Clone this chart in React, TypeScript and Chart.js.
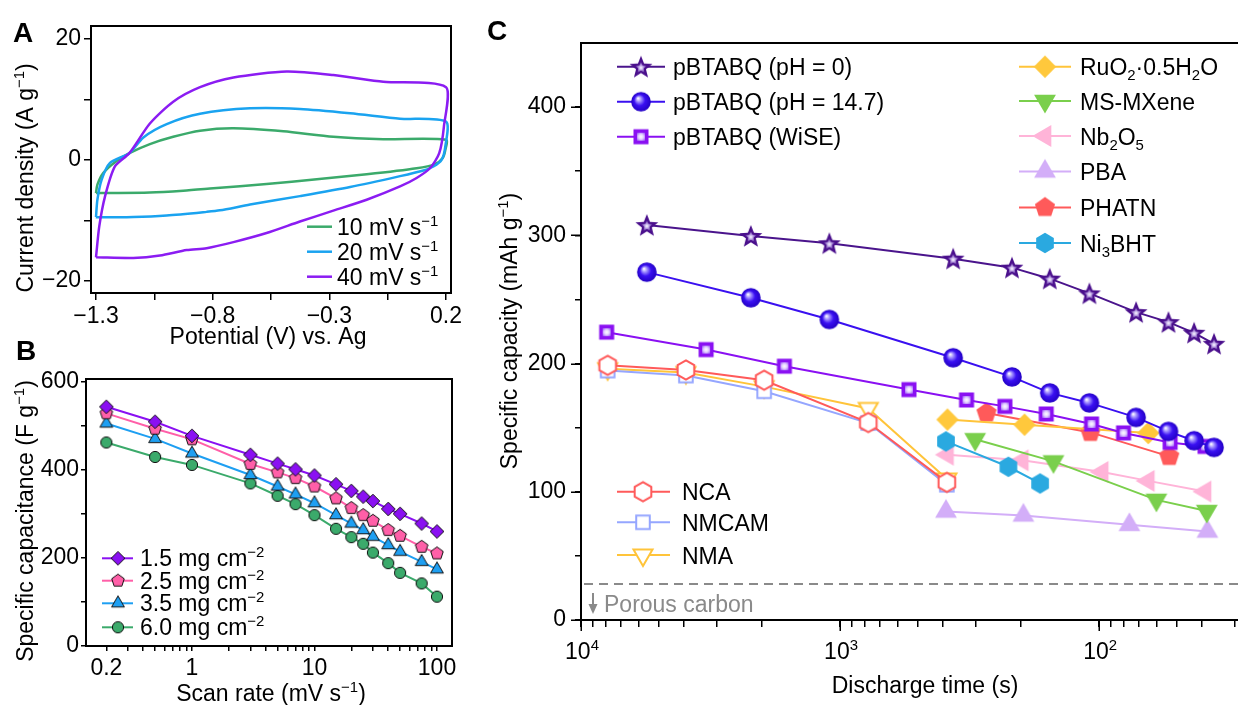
import React, { useEffect, useRef } from 'react';
import { Chart, registerables } from 'chart.js';
Chart.register(...registerables);

const FONT = "Arial, 'Liberation Sans', Helvetica, sans-serif";

// ---------- Panel A: cyclic voltammograms ----------
const cv10V = [-1.3, -1.294, -1.269, -1.219, -1.157, -1.069, -0.969, -0.854, -0.711, -0.497, -0.283, -0.069, 0.2, 0.197, 0.186, 0.153, 0.074, -0.14, -0.354, -0.569, -0.797, -0.926, -1.069, -1.297, -1.3];
const cv10I = [-5.5, -4.1, -2.2, -0.4, 1.1, 2.6, 3.8, 4.8, 5.2, 4.7, 3.8, 3.4, 3.3, 1.6, 0.3, -0.7, -1.4, -2.4, -3.2, -4.0, -4.7, -5.1, -5.4, -5.5, -5.5];
const cv20V = [-1.3, -1.294, -1.276, -1.24, -1.157, -1.097, -0.997, -0.854, -0.64, -0.426, -0.211, 0.003, 0.2, 0.197, 0.181, 0.146, 0.103, 0.003, -0.211, -0.426, -0.64, -0.769, -0.826, -0.997, -1.14, -1.297, -1.3];
const cv20I = [-9.45, -6.6, -3.3, -0.5, 1.1, 3.7, 5.9, 7.6, 8.5, 8.4, 7.7, 6.8, 6.3, 2.2, 0, -1.1, -1.76, -2.7, -4.5, -6.0, -7.4, -8.35, -8.6, -9.2, -9.45, -9.5, -9.45];
const cv40V = [-1.3, -1.286, -1.261, -1.219, -1.157, -1.069, -0.969, -0.854, -0.711, -0.483, -0.283, -0.069, 0.2, 0.191, 0.171, 0.131, 0.074, 0.003, -0.14, -0.283, -0.426, -0.569, -0.711, -0.826, -0.911, -1.026, -1.14, -1.297, -1.3];
const cv40I = [-16.1, -11.0, -6.0, -1.1, 1.1, 6.0, 9.6, 12.0, 13.6, 14.6, 14.0, 12.9, 12.0, 5.5, 1.1, -1.4, -3.0, -4.4, -6.6, -8.4, -10.2, -12.1, -13.6, -14.6, -14.9, -15.8, -16.2, -16.1, -16.1];
const scanLabels = ['10', '20', '40'];
const aTicksX = [-1.3, -1.05, -0.8, -0.55, -0.3, -0.05, 0.2];
const aLabelsX = [-1.3, -0.8, -0.3, 0.2];
const aTicksY = [-20, -10, 0, 10, 20];
const aLabelsY = [-20, 0, 20];

// ---------- Panel B: specific capacitance vs scan rate ----------
const scanRates = [0.2, 0.5, 1, 3, 5, 7, 10, 15, 20, 25, 30, 40, 50, 75, 100];
const cap15 = [543, 509, 477, 434, 414, 401, 387, 367, 352, 339, 329, 311, 300, 278, 260];
const cap25 = [528, 493, 469, 413, 394, 381, 362, 335, 313, 297, 284, 263, 250, 225, 210];
const cap35 = [505, 470, 437, 388, 362, 344, 324, 297, 278, 263, 248, 229, 214, 191, 174];
const cap60 = [462, 429, 411, 369, 341, 322, 297, 266, 247, 232, 212, 188, 166, 142, 112];
const loadings = ['1.5', '2.5', '3.5', '6.0'];
const bTicksX = [0.2, 0.3, 0.4, 0.5, 0.6, 0.7, 0.8, 0.9, 1, 2, 3, 4, 5, 6, 7, 8, 9, 10, 20, 30, 40, 50, 60, 70, 80, 90, 100];
const bLabelsX = [0.2, 1, 10, 100];
const bTicksY = [0, 100, 200, 300, 400, 500, 600];
const bLabelsY = [0, 200, 400, 600];

// ---------- Panel C: specific capacity vs discharge time ----------
const tPB = [5570, 2210, 1100, 366, 217, 155, 109, 72, 54, 43, 36];
const capPH0 = [308, 299.5, 293.8, 281.8, 274.8, 266.2, 254.7, 240.1, 232.3, 224.0, 215.4];
const capPH147 = [271.3, 251.3, 234.4, 204.5, 189.6, 177.1, 169.3, 158.0, 147.1, 139.8, 134.6];
const tWiSE = [7960, 3290, 1640, 542, 325, 231, 160, 107, 80.5, 53.2, 39];
const capWiSE = [224.5, 210.9, 197.9, 179.7, 171.6, 166.6, 160.7, 152.9, 145.9, 138.5, 135.4];
const tLi = [7890, 3935, 1963, 778, 387];
const capNCA = [198.6, 195, 187, 154, 107.3];
const capNMCAM = [194.5, 190.6, 178.4, 153.6, 105.5];
const capNMA = [196, 193, 182, 165, 110];
const tRuO2 = [385, 194, 64.6];
const capRuO2 = [156.3, 152.3, 145.8];
const tMX = [301, 150, 60.1, 38.4];
const capMX = [141, 123.7, 93.7, 85];
const tNb = [385, 198, 97.3, 64.6, 39];
const capNb = [128.9, 124.5, 115.5, 108.5, 100.2];
const tPBA = [390, 196, 76.4, 38.2];
const capPBA = [84.6, 81.5, 74.2, 69];
const tPHATN = [272, 108, 53.6];
const capPHATN = [161.5, 146.3, 127.6];
const tNi = [390, 224, 169];
const capNi = [139.3, 119.5, 106.5];
const porousCarbon = 28;
const cTicksX = [30, 40, 50, 60, 70, 80, 90, 100, 200, 300, 400, 500, 600, 700, 800, 900, 1000, 2000, 3000, 4000, 5000, 6000, 7000, 8000, 9000, 10000];
const cLabelsX = [[10000, '4'], [1000, '3'], [100, '2']];
const cTicksY = [0, 50, 100, 150, 200, 250, 300, 350, 400];
const cLabelsY = [0, 100, 200, 300, 400];

// ---------- helpers ----------
type Seg = [string, string];
const pts = (xs: number[], ys: number[]) => xs.map((x, i) => ({ x, y: ys[i] }));
const fmt = (v: number) => (v < 0 ? '\u2212' + String(Math.abs(v)) : String(v));
const has = (arr: number[], v: number) => arr.some((a) => Math.abs(a - v) < 1e-9);

function richWidth(ctx: CanvasRenderingContext2D, segs: Seg[], size: number) {
  let w = 0;
  for (const [t, k] of segs) {
    ctx.font = `${k ? size * 0.65 : size}px ${FONT}`;
    w += ctx.measureText(t).width;
  }
  return w;
}
function drawRich(ctx: CanvasRenderingContext2D, segs: Seg[], x: number, y: number, size: number, align = 'left', color = '#000') {
  ctx.save();
  ctx.fillStyle = color;
  ctx.textAlign = 'left';
  ctx.textBaseline = 'alphabetic';
  const w = richWidth(ctx, segs, size);
  let cx = align === 'left' ? x : align === 'center' ? x - w / 2 : x - w;
  for (const [t, k] of segs) {
    const s = k ? size * 0.65 : size;
    ctx.font = `${s}px ${FONT}`;
    const dy = k === 'sup' ? -size * 0.4 : k === 'sub' ? size * 0.22 : 0;
    ctx.fillText(t, cx, y + dy);
    cx += ctx.measureText(t).width;
  }
  ctx.restore();
}
function drawRot(ctx: CanvasRenderingContext2D, segs: Seg[], xBase: number, yCenter: number, size: number) {
  ctx.save();
  ctx.translate(xBase, yCenter);
  ctx.rotate(-Math.PI / 2);
  drawRich(ctx, segs, 0, 0, size, 'center');
  ctx.restore();
}
function panelLabel(ctx: CanvasRenderingContext2D, t: string, x: number, y: number) {
  ctx.save();
  ctx.font = `bold 28px ${FONT}`;
  ctx.fillStyle = '#000';
  ctx.textBaseline = 'alphabetic';
  ctx.fillText(t, x, y);
  ctx.restore();
}

function mkCanvas(size: number, draw: (ctx: CanvasRenderingContext2D, c: number) => void) {
  const cv = document.createElement('canvas');
  cv.width = size;
  cv.height = size;
  const ctx = cv.getContext('2d') as CanvasRenderingContext2D;
  draw(ctx, size / 2);
  return cv;
}
function polyPath(ctx: CanvasRenderingContext2D, cx: number, cy: number, n: number, R: number, rot: number) {
  ctx.beginPath();
  for (let i = 0; i < n; i++) {
    const a = rot + (i * 2 * Math.PI) / n;
    const x = cx + R * Math.sin(a);
    const y = cy - R * Math.cos(a);
    if (i) ctx.lineTo(x, y);
    else ctx.moveTo(x, y);
  }
  ctx.closePath();
}
function starPath(ctx: CanvasRenderingContext2D, cx: number, cy: number, R: number, r: number) {
  ctx.beginPath();
  for (let i = 0; i < 10; i++) {
    const a = (i * Math.PI) / 5;
    const rr = i % 2 ? r : R;
    const x = cx + rr * Math.sin(a);
    const y = cy - rr * Math.cos(a);
    if (i) ctx.lineTo(x, y);
    else ctx.moveTo(x, y);
  }
  ctx.closePath();
}
function polyMarker(size: number, n: number, R: number, rot: number, fill: string, stroke?: string, lw = 1) {
  return mkCanvas(size, (ctx, c) => {
    polyPath(ctx, c, c, n, R, rot);
    ctx.fillStyle = fill;
    ctx.fill();
    if (stroke) {
      ctx.strokeStyle = stroke;
      ctx.lineWidth = lw;
      ctx.lineJoin = 'miter';
      ctx.stroke();
    }
  });
}

function makeMarkers() {
  const m: Record<string, HTMLCanvasElement> = {};
  // Panel B
  m.bDiamond = polyMarker(18, 4, 6.8, 0, '#8A10F2', '#111', 1);
  m.bPent = polyMarker(18, 5, 6.6, 0, '#FF5FA8', '#111', 1);
  m.bTri = polyMarker(18, 3, 7.4, 0, '#1E9FF2', '#111', 1);
  m.bCircle = mkCanvas(16, (ctx, c) => {
    ctx.beginPath();
    ctx.arc(c, c, 5.6, 0, Math.PI * 2);
    ctx.fillStyle = '#3BAA6B';
    ctx.fill();
    ctx.strokeStyle = '#111';
    ctx.lineWidth = 1;
    ctx.stroke();
  });
  // Panel C
  m.star = mkCanvas(28, (ctx, c) => {
    const cy = c + 1;
    starPath(ctx, c, cy, 12, 5.2);
    ctx.fillStyle = '#4A0F8C';
    ctx.fill();
    starPath(ctx, c, cy, 6.2, 2.7);
    const g = ctx.createRadialGradient(c, cy, 0, c, cy, 5.5);
    g.addColorStop(0, '#ffffff');
    g.addColorStop(0.35, '#c8b4ec');
    g.addColorStop(1, '#5a249e');
    ctx.fillStyle = g;
    ctx.fill();
  });
  m.ball = mkCanvas(24, (ctx, c) => {
    ctx.beginPath();
    ctx.arc(c, c, 9.8, 0, Math.PI * 2);
    const g = ctx.createRadialGradient(c - 3, c - 3.5, 0.3, c, c, 9.8);
    g.addColorStop(0, '#ffffff');
    g.addColorStop(0.22, '#a898ff');
    g.addColorStop(0.55, '#3a10f2');
    g.addColorStop(1, '#2200c4');
    ctx.fillStyle = g;
    ctx.fill();
  });
  m.wise = mkCanvas(20, (ctx, c) => {
    ctx.fillStyle = '#8A10F2';
    ctx.fillRect(c - 7.5, c - 7.5, 15, 15);
    const g = ctx.createRadialGradient(c, c, 0, c, c, 5);
    g.addColorStop(0, '#ffffff');
    g.addColorStop(0.5, '#e2d0ff');
    g.addColorStop(1, '#a060f6');
    ctx.fillStyle = g;
    ctx.fillRect(c - 4, c - 4, 8, 8);
  });
  m.nca = polyMarker(26, 6, 9.6, 0, '#ffffff', '#FF5A5A', 2);
  m.nmcam = polyMarker(22, 4, 9.6, Math.PI / 4, '#ffffff', '#95A6FF', 2);
  m.nma = polyMarker(28, 3, 11, Math.PI, '#ffffff', '#FFC43A', 2);
  m.ruo2 = polyMarker(26, 4, 11.2, 0, '#FFC83C');
  m.mx = polyMarker(30, 3, 12.6, Math.PI, '#7ACF4C');
  m.nb = polyMarker(30, 3, 12.6, -Math.PI / 2, '#FFB4D8');
  m.pba = polyMarker(30, 3, 12.6, 0, '#D3AEF8');
  m.phatn = polyMarker(26, 5, 10.6, 0, '#FF5A5A');
  m.ni = polyMarker(26, 6, 10.2, 0, '#2AA9E0');
  return m;
}

const gridCfg = (len: number) => ({ display: true, drawOnChartArea: false, drawTicks: true, tickLength: len, color: '#000', lineWidth: 1.5 });
const borderCfg = { display: true, color: '#000', width: 2 };
const ticksCfg = (pad: number, cb: (v: any) => string) => ({
  color: '#000',
  font: { family: FONT, size: 23 },
  padding: pad,
  autoSkip: false,
  maxRotation: 0,
  minRotation: 0,
  callback: (v: any) => cb(Number(v)),
});
const baseOptions = (padding: any) => ({
  responsive: false,
  animation: false,
  devicePixelRatio: 1,
  events: [],
  layout: { padding, autoPadding: false },
  plugins: { legend: { display: false }, tooltip: { enabled: false } },
});

// nudge layout padding so the plot area lands exactly where the reference has it
function fitArea(chart: any, target: { left: number; top: number; right: number; bottom: number }) {
  for (let k = 0; k < 4; k++) {
    const a = chart.chartArea;
    const p = chart.config.options.layout.padding;
    const dl = a.left - target.left;
    const dt = a.top - target.top;
    const dr = target.right - a.right;
    const db = target.bottom - a.bottom;
    if (Math.abs(dl) < 0.3 && Math.abs(dt) < 0.3 && Math.abs(dr) < 0.3 && Math.abs(db) < 0.3) break;
    chart.config.options.layout.padding = {
      left: p.left - dl,
      top: p.top - dt,
      right: p.right - dr,
      bottom: p.bottom - db,
    };
    chart.update();
  }
  return chart;
}

// ---------- Panel A ----------
const colA = ['#3BAA6B', '#1AA3F0', '#8B1CF2'];
function makeA(canvas: HTMLCanvasElement) {
  const series = [pts(cv10V, cv10I), pts(cv20V, cv20I), pts(cv40V, cv40I)];
  const datasets = series
    .map((d, i) => ({ data: d, showLine: true, borderColor: colA[i], borderWidth: 2.5, pointRadius: 0, tension: 0.25, fill: false }))
    .reverse();
  const plugin = {
    id: 'panelA',
    afterDraw(chart: any) {
      const { ctx, chartArea: a } = chart;
      ctx.save();
      ctx.strokeStyle = '#000';
      ctx.lineWidth = 2;
      ctx.strokeRect(a.left, a.top, a.right - a.left, a.bottom - a.top);
      ctx.restore();
      drawRich(ctx, [['Potential (V) vs. Ag', '']], 268, 344, 23, 'center');
      drawRot(ctx, [['Current density (A g', ''], ['\u22121', 'sup'], [')', '']], 33, 178, 23);
      const rows = [226.7, 251.7, 276.7];
      scanLabels.forEach((s, i) => {
        ctx.save();
        ctx.strokeStyle = colA[i];
        ctx.lineWidth = 2.5;
        ctx.beginPath();
        ctx.moveTo(307, rows[i]);
        ctx.lineTo(332, rows[i]);
        ctx.stroke();
        ctx.restore();
        drawRich(ctx, [[`${s} mV s`, ''], ['\u22121', 'sup']], 337, rows[i] + 8, 23);
      });
      panelLabel(ctx, 'A', 13, 42);
    },
  };
  const chart = new Chart(canvas, {
    type: 'scatter',
    data: { datasets },
    options: {
      ...baseOptions({ left: 0, top: 26, right: 29, bottom: 0 }),
      scales: {
        x: {
          type: 'linear',
          min: -1.3214,
          max: 0.2214,
          afterFit: (s: any) => { s.height = 57; },
          afterBuildTicks: (s: any) => { s.ticks = aTicksX.map((v) => ({ value: v })); },
          ticks: ticksCfg(3, (v) => (has(aLabelsX, v) ? fmt(v) : '')),
          grid: gridCfg(7),
          border: borderCfg,
        },
        y: {
          type: 'linear',
          min: -22,
          max: 22.1,
          afterFit: (s: any) => { s.width = 91; },
          afterBuildTicks: (s: any) => { s.ticks = aTicksY.map((v) => ({ value: v })); },
          ticks: ticksCfg(3, (v) => (has(aLabelsY, v) ? fmt(v) : '')),
          grid: gridCfg(7),
          border: borderCfg,
        },
      },
    } as any,
    plugins: [plugin],
  });
  return fitArea(chart, { left: 91, top: 26, right: 451, bottom: 293 });
}

// ---------- Panel B ----------
const colB = ['#8A10F2', '#FF5FA8', '#1E9FF2', '#3BAA6B'];
function makeB(canvas: HTMLCanvasElement, mk: Record<string, HTMLCanvasElement>) {
  const caps = [cap15, cap25, cap35, cap60];
  const marks = [mk.bDiamond, mk.bPent, mk.bTri, mk.bCircle];
  const datasets = caps.map((c, i) => ({
    data: pts(scanRates, c),
    showLine: true,
    borderColor: colB[i],
    borderWidth: 2,
    pointStyle: marks[i],
    pointRadius: 5,
    tension: 0,
  }));
  const plugin = {
    id: 'panelB',
    afterDraw(chart: any) {
      const { ctx, chartArea: a } = chart;
      ctx.save();
      ctx.strokeStyle = '#000';
      ctx.lineWidth = 2;
      ctx.strokeRect(a.left, a.top, a.right - a.left, a.bottom - a.top);
      ctx.restore();
      drawRich(ctx, [['Scan rate (mV s', ''], ['\u22121', 'sup'], [')', '']], 271, 371, 23, 'center');
      drawRot(ctx, [['Specific capacitance (F g', ''], ['\u22121', 'sup'], [')', '']], 33, 191, 23);
      const rows = [228.3, 250.7, 273.3, 297.3];
      loadings.forEach((s, i) => {
        ctx.save();
        ctx.strokeStyle = colB[i];
        ctx.lineWidth = 2;
        ctx.beginPath();
        ctx.moveTo(102, rows[i]);
        ctx.lineTo(133, rows[i]);
        ctx.stroke();
        ctx.drawImage(marks[i], 118 - marks[i].width / 2, rows[i] - marks[i].height / 2);
        ctx.restore();
        drawRich(ctx, [[`${s} mg cm`, ''], ['\u22122', 'sup']], 140, rows[i] + 8, 23);
      });
      panelLabel(ctx, 'B', 16, 30);
    },
  };
  const chart = new Chart(canvas, {
    type: 'scatter',
    data: { datasets },
    options: {
      ...baseOptions({ left: 0, top: 49, right: 28, bottom: 0 }),
      scales: {
        x: {
          type: 'logarithmic',
          min: 0.1364,
          max: 132.6,
          afterFit: (s: any) => { s.height = 59; },
          afterBuildTicks: (s: any) => { s.ticks = bTicksX.map((v) => ({ value: v })); },
          ticks: ticksCfg(4, (v) => (has(bLabelsX, v) ? String(v) : '')),
          grid: gridCfg(5),
          border: borderCfg,
        },
        y: {
          type: 'linear',
          min: 0,
          max: 606,
          afterFit: (s: any) => { s.width = 86; },
          afterBuildTicks: (s: any) => { s.ticks = bTicksY.map((v) => ({ value: v })); },
          ticks: ticksCfg(2, (v) => (has(bLabelsY, v) ? String(v) : '')),
          grid: gridCfg(5),
          border: borderCfg,
        },
      },
    } as any,
    plugins: [plugin],
  });
  return fitArea(chart, { left: 86, top: 49, right: 452, bottom: 316 });
}

// ---------- Panel C ----------
const colC = {
  ph0: '#4A148C',
  ph147: '#3A10F0',
  wise: '#8A10F2',
  nca: '#FF5A5A',
  nmcam: '#95A6FF',
  nma: '#FFC43A',
  ruo2: '#FFC43A',
  mx: '#7ACF4C',
  nb: '#FFB4D8',
  pba: '#D3AEF8',
  phatn: '#FF5A5A',
  ni: '#2AA9E0',
};
function makeC(canvas: HTMLCanvasElement, mk: Record<string, HTMLCanvasElement>) {
  const ds = (data: any[], color: string, marker: HTMLCanvasElement, width = 2) => ({
    data,
    showLine: true,
    borderColor: color,
    borderWidth: width,
    pointStyle: marker,
    pointRadius: 6,
    tension: 0,
  });
  const datasets: any[] = [
    ds(pts(tPB, capPH147), colC.ph147, mk.ball),
    ds(pts(tPB, capPH0), colC.ph0, mk.star),
    ds(pts(tWiSE, capWiSE), colC.wise, mk.wise),
    ds(pts(tRuO2, capRuO2), colC.ruo2, mk.ruo2),
    ds(pts(tPHATN, capPHATN), colC.phatn, mk.phatn),
    ds(pts(tNi, capNi), colC.ni, mk.ni),
    ds(pts(tMX, capMX), colC.mx, mk.mx),
    ds(pts(tNb, capNb), colC.nb, mk.nb),
    ds(pts(tPBA, capPBA), colC.pba, mk.pba),
    ds(pts(tLi, capNCA), colC.nca, mk.nca),
    ds(pts(tLi, capNMCAM), colC.nmcam, mk.nmcam),
    ds(pts(tLi, capNMA), colC.nma, mk.nma),
    {
      data: [{ x: 29.1, y: porousCarbon }, { x: 10000, y: porousCarbon }],
      showLine: true,
      borderColor: '#8A8A8A',
      borderWidth: 2,
      borderDash: [9, 6],
      pointRadius: 0,
    },
  ];
  const legend1: [Seg[], string, HTMLCanvasElement][] = [
    [[['pBTABQ (pH = 0)', '']], colC.ph0, mk.star],
    [[['pBTABQ (pH = 14.7)', '']], colC.ph147, mk.ball],
    [[['pBTABQ (WiSE)', '']], colC.wise, mk.wise],
  ];
  const legend2: [Seg[], string, HTMLCanvasElement][] = [
    [[['RuO', ''], ['2', 'sub'], ['\u00B70.5H', ''], ['2', 'sub'], ['O', '']], colC.ruo2, mk.ruo2],
    [[['MS-MXene', '']], colC.mx, mk.mx],
    [[['Nb', ''], ['2', 'sub'], ['O', ''], ['5', 'sub']], colC.nb, mk.nb],
    [[['PBA', '']], colC.pba, mk.pba],
    [[['PHATN', '']], colC.phatn, mk.phatn],
    [[['Ni', ''], ['3', 'sub'], ['BHT', '']], colC.ni, mk.ni],
  ];
  const legend3: [Seg[], string, HTMLCanvasElement][] = [
    [[['NCA', '']], colC.nca, mk.nca],
    [[['NMCAM', '']], colC.nmcam, mk.nmcam],
    [[['NMA', '']], colC.nma, mk.nma],
  ];
  const drawLegend = (ctx: CanvasRenderingContext2D, items: [Seg[], string, HTMLCanvasElement][], rows: number[], x0: number, x1: number, xm: number, xt: number) => {
    items.forEach(([segs, color, marker], i) => {
      const y = rows[i];
      ctx.save();
      ctx.strokeStyle = color;
      ctx.lineWidth = 2;
      ctx.beginPath();
      ctx.moveTo(x0, y);
      ctx.lineTo(x1, y);
      ctx.stroke();
      ctx.drawImage(marker, xm - marker.width / 2, y - marker.height / 2);
      ctx.restore();
      drawRich(ctx, segs, xt, y + 8.5, 23);
    });
  };
  const plugin = {
    id: 'panelC',
    afterDraw(chart: any) {
      const { ctx, chartArea: a } = chart;
      const xs = chart.scales.x;
      const ys = chart.scales.y;
      ctx.save();
      ctx.strokeStyle = '#000';
      ctx.lineWidth = 2;
      ctx.beginPath();
      ctx.moveTo(a.left, a.top);
      ctx.lineTo(a.right, a.top);
      ctx.stroke();
      // longer major tick marks
      ctx.lineWidth = 1.5;
      ctx.beginPath();
      cLabelsX.forEach(([v]: any) => {
        const px = Math.round(xs.getPixelForValue(v)) + 0.25;
        ctx.moveTo(px, a.bottom);
        ctx.lineTo(px, a.bottom + 11);
      });
      cLabelsY.forEach((v) => {
        const py = Math.round(ys.getPixelForValue(v)) + 0.25;
        ctx.moveTo(a.left, py);
        ctx.lineTo(a.left - 10, py);
      });
      ctx.stroke();
      ctx.restore();
      cLabelsX.forEach(([v, e]: any) => {
        drawRich(ctx, [['10', ''], [e, 'sup']], xs.getPixelForValue(v) + 1, 659, 23, 'center');
      });
      drawRich(ctx, [['Discharge time (s)', '']], 455, 693, 23, 'center');
      drawRot(ctx, [['Specific capacity (mAh g', ''], ['\u22121', 'sup'], [')', '']], 47, 331, 23);
      drawLegend(ctx, legend1, [66.7, 101.7, 136.7], 147, 195, 171, 203);
      drawLegend(ctx, legend2, [66.7, 101, 136, 171.5, 207.5, 243], 549, 601, 575, 610);
      drawLegend(ctx, legend3, [491.7, 522.3, 555], 147, 200, 173, 212);
      // porous carbon arrow + text
      ctx.save();
      ctx.strokeStyle = '#8A8A8A';
      ctx.fillStyle = '#8A8A8A';
      ctx.lineWidth = 2;
      ctx.beginPath();
      ctx.moveTo(123, 593);
      ctx.lineTo(123, 606);
      ctx.stroke();
      ctx.beginPath();
      ctx.moveTo(118.5, 604);
      ctx.lineTo(127.5, 604);
      ctx.lineTo(123, 614);
      ctx.closePath();
      ctx.fill();
      ctx.restore();
      drawRich(ctx, [['Porous carbon', '']], 134, 612, 23, 'left', '#8A8A8A');
      panelLabel(ctx, 'C', 17, 40);
    },
  };
  const chart = new Chart(canvas, {
    type: 'scatter',
    data: { datasets },
    options: {
      ...baseOptions({ left: 0, top: 43, right: 0, bottom: 0 }),
      scales: {
        x: {
          type: 'logarithmic',
          reverse: true,
          min: 29.1,
          max: 10000,
          afterFit: (s: any) => { s.height = 85; },
          afterBuildTicks: (s: any) => { s.ticks = cTicksX.map((v) => ({ value: v })); },
          ticks: ticksCfg(4, () => ''),
          grid: gridCfg(7),
          border: borderCfg,
        },
        y: {
          type: 'linear',
          min: 0,
          max: 450,
          afterFit: (s: any) => { s.width = 111; },
          afterBuildTicks: (s: any) => { s.ticks = cTicksY.map((v) => ({ value: v })); },
          ticks: ticksCfg(9, (v) => (has(cLabelsY, v) ? String(v) : '')),
          grid: gridCfg(6),
          border: borderCfg,
        },
      },
    } as any,
    plugins: [plugin],
  });
  return fitArea(chart, { left: 111, top: 43, right: 768, bottom: 620 });
}

export default function App() {
  const refA = useRef<HTMLCanvasElement>(null);
  const refB = useRef<HTMLCanvasElement>(null);
  const refC = useRef<HTMLCanvasElement>(null);
  useEffect(() => {
    const mk = makeMarkers();
    const charts = [
      makeA(refA.current as HTMLCanvasElement),
      makeB(refB.current as HTMLCanvasElement, mk),
      makeC(refC.current as HTMLCanvasElement, mk),
    ];
    return () => charts.forEach((c) => c.destroy());
  }, []);
  return (
    <div style={{ position: 'absolute', left: 0, top: 0, width: 1238, height: 705, background: '#fff', overflow: 'hidden' }}>
      <canvas ref={refA} width={480} height={350} style={{ position: 'absolute', left: 0, top: 0 }} />
      <canvas ref={refB} width={480} height={375} style={{ position: 'absolute', left: 0, top: 330 }} />
      <canvas ref={refC} width={768} height={705} style={{ position: 'absolute', left: 470, top: 0 }} />
    </div>
  );
}
